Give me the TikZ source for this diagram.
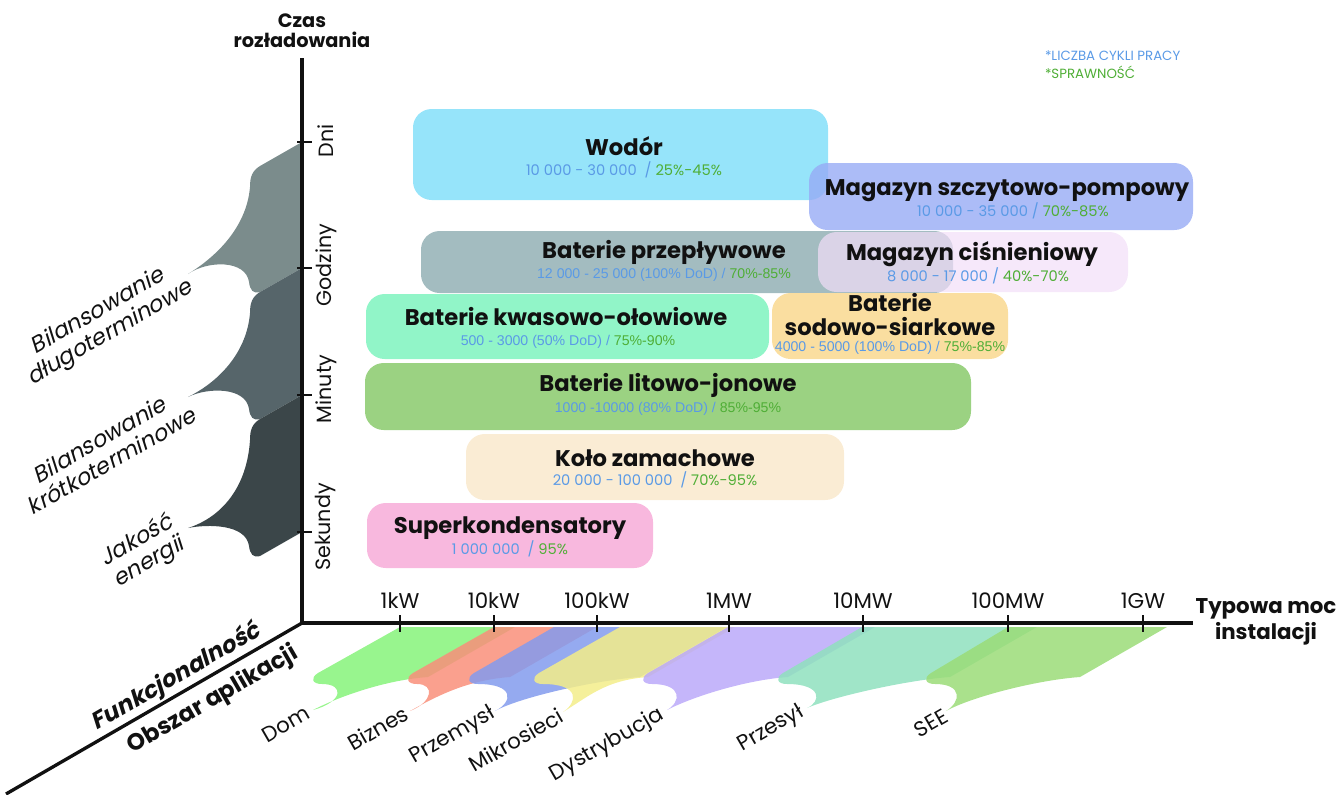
\documentclass[tikz,border=0pt]{standalone}
\usepackage{fontspec}
\setmainfont{Poppins}
\newfontfamily\slantfont{Poppins}[FakeSlant=0.22]
\newfontfamily\numfont{Liberation Sans}
\usetikzlibrary{fit}

\definecolor{inkblack}{HTML}{111111}
\definecolor{numblue}{HTML}{5A9AE6}
\definecolor{effgreen}{HTML}{4FAE36}
% functionality wedges
\definecolor{greyA}{HTML}{7B8C8C}
\definecolor{greyB}{HTML}{56656A}
\definecolor{greyC}{HTML}{3B4649}
% application bands
\definecolor{bandDom}{HTML}{86F37A}
\definecolor{bandBiz}{HTML}{F98F7A}
\definecolor{bandInd}{HTML}{839BED}
\definecolor{bandMicro}{HTML}{F3ED89}
\definecolor{bandDist}{HTML}{BBA9F9}
\definecolor{bandTrans}{HTML}{8FE1BE}
\definecolor{bandSEE}{HTML}{9BDC78}
% storage boxes
\definecolor{boxHydro}{HTML}{96E4FA}
\definecolor{boxPump}{HTML}{97ABF5}
\definecolor{boxFlow}{HTML}{A3BCC0}
\definecolor{boxAir}{HTML}{F2DEF8}
\definecolor{boxLead}{HTML}{91F5C8}
\definecolor{boxNaS}{HTML}{FADEA0}
\definecolor{boxLion}{HTML}{9BD282}
\definecolor{boxFly}{HTML}{FAECD4}
\definecolor{boxCap}{HTML}{F8B8DE}

\newcommand\cyc[1]{\textcolor{numblue}{#1}}
\newcommand\eff[1]{\textcolor{effgreen}{#1}}

% wedge between two ticks of the discharge-time axis: top, bottom, colour, tip y
\newcommand\funcwedge[4]{%
  \fill[#3] (302,#1) -- (260,#1+24)
    .. controls (252,#1+29) and (250,#1+35) .. (250,#1+45)
    .. controls (247,#2-45) and (222,#2-15) .. (188,#4)
    .. controls (208,#2-8) and (246,#2-8) .. (249,#2+14)
    .. controls (250,#2+22) and (253,#2+26) .. (260,#2+24)
    -- (302,#2) -- cycle;}

% application band under the power axis: left x, right x, ear x, notch x, tip x, tip y, colour
\newcommand\appband[7]{%
  \fill[#7, fill opacity=0.85] (#1,627) -- (#3+6,673)
    .. controls (#3-2,678) and (#3,684) .. (#3+10,684)
    .. controls (#4+8,684) and (#4+6,702) .. (#5,#6)
    .. controls (#5+25,697) and (#2-130,680) .. (#2-87,677)
    -- (#2,627) -- cycle;}

\begin{document}
\begin{tikzpicture}[x=0.75pt, y=-0.75pt,
  every node/.style={inner sep=0pt, outer sep=0pt, text=inkblack},
  axisline/.style={line width=2.5pt, draw=inkblack},
  tickmark/.style={line width=2.2pt, draw=inkblack},
  storebox/.style={rounded corners=14pt, inner sep=0pt},
  boxtitle/.style={anchor=base, font=\bfseries\fontsize{17}{19}\selectfont},
  boxsub/.style={anchor=base, font=\fontsize{11}{12}\selectfont},
  boxsubn/.style={anchor=base, font=\numfont\fontsize{10.6}{12}\selectfont},
  powerlbl/.style={anchor=base, font=\fontsize{16}{17}\selectfont},
  timelbl/.style={rotate=90, font=\fontsize{15.5}{17}\selectfont},
  applbl/.style={rotate=30, font=\fontsize{16}{17}\selectfont},
  funclbl/.style={rotate=30, align=center, font=\slantfont\fontsize{17}{18.5}\selectfont},
  axistitle/.style={align=center, font=\bfseries\fontsize{14.5}{15}\selectfont},
  legend/.style={anchor=base west, font=\fontsize{10}{12}\selectfont},
]
\useasboundingbox (0,0) rectangle (1342,794);

% functionality wedges along the time axis
\funcwedge{142}{268}{greyA}{274}
\funcwedge{268}{395}{greyB}{397}
\funcwedge{395}{532}{greyC}{528}

% application bands along the power axis
\appband{400}{515}{312}{337}{313}{710}{bandDom}
\appband{494}{597}{407}{427}{410}{711}{bandBiz}
\appband{554}{727}{468}{507}{495}{711}{bandInd}
\appband{620}{735}{533}{572}{563}{712}{bandMicro}
\appband{728}{875}{642}{675}{667}{710}{bandDist}
\appband{862}{1037}{777}{815}{807}{708}{bandTrans}
\appband{1008}{1167}{925}{955}{946}{711}{bandSEE}

% axes
\coordinate (O) at (302,623);
\coordinate (ytop) at (302,58);
\coordinate (xend) at (1193,623);
\coordinate (zend) at (6,794);
\draw[axisline] (ytop) -- (O) -- (xend);
\draw[axisline] (O) -- (zend);

% discharge-time ticks
\foreach \t in {142,268,395,532} \draw[tickmark] (297,\t) -- (312,\t);
\node[timelbl] (tDni) at (326,141) {Dni};
\node[timelbl] (tGodz) at (326,265) {Godziny};
\node[timelbl] (tMin) at (326,389) {Minuty};
\node[timelbl] (tSek) at (326,527) {Sekundy};

% power ticks
\foreach \x in {400,494,597,729,863,1008,1143} \draw[tickmark] (\x,615) -- (\x,632);
\node[powerlbl] (p1k) at (400,608) {1kW};
\node[powerlbl] (p10k) at (494,608) {10kW};
\node[powerlbl] (p100k) at (597,608) {100kW};
\node[powerlbl] (p1M) at (729,608) {1MW};
\node[powerlbl] (p10M) at (863,608) {10MW};
\node[powerlbl] (p100M) at (1008,608) {100MW};
\node[powerlbl] (p1G) at (1143,608) {1GW};

% axis titles
\node[axistitle] (titleTime) at (302,31) {Czas\\rozładowania};
\node[axistitle, font=\bfseries\fontsize{16}{19.5}\selectfont] (titlePower) at (1266,622) {Typowa moc\\instalacji};
\node[rotate=30, font=\slantfont\bfseries\fontsize{17.5}{18}\selectfont] (titleFunc) at (176,677) {Funkcjonalność};
\node[rotate=30, font=\bfseries\fontsize{17.5}{18}\selectfont] (titleArea) at (213,700) {Obszar aplikacji};

% functionality labels
\node[funclbl] (fLong) at (104,323) {Bilansowanie\\długoterminowe};
\node[funclbl] (fShort) at (105,450) {Bilansowanie\\krótkoterminowe};
\node[funclbl] (fQual) at (143,552) {Jakość\\energii};

% application labels
\node[applbl] (aDom) at (286,724) {Dom};
\node[applbl] (aBiz) at (378,728) {Biznes};
\node[applbl] (aInd) at (453,736) {Przemysł};
\node[applbl] (aMicro) at (516,740) {Mikrosieci};
\node[applbl] (aDist) at (607,745) {Dystrybucja};
\node[applbl] (aTrans) at (771,729) {Przesył};
\node[applbl] (aSEE) at (931,723) {SEE};

% storage technologies
\node[storebox, fill=boxHydro, fit={(413,109) (828,200)}] (hydro) {};
\node[storebox, fill=boxPump, fill opacity=0.8, fit={(809,163) (1193,230)}] (pump) {};
\node[storebox, fill=boxFlow, fit={(421,231) (953,293)}] (flow) {};
\node[storebox, fill=boxAir, fill opacity=0.7, fit={(818,232) (1128,292)}] (air) {};
\node[storebox, fill=boxLead, fit={(366,294) (769,359)}] (lead) {};
\node[storebox, fill=boxNaS, fit={(772,293) (1008,359)}] (nas) {};
\node[storebox, fill=boxLion, fit={(365,363) (971,430)}] (lion) {};
\node[storebox, fill=boxFly, fit={(466,434) (844,500)}] (fly) {};
\node[storebox, fill=boxCap, fit={(367,503) (653,568)}] (cap) {};

\node[boxtitle] (hydroT) at (624,155) {Wodór};
\node[boxsub] (hydroS) at (624,175) {\cyc{10 000 - 30 000\ \ /} \eff{25\%-45\%}};
\node[boxtitle] (pumpT) at (1007,195) {Magazyn szczytowo-pompowy};
\node[boxsub] (pumpS) at (1013,216.5) {\cyc{10 000 - 35 000 /} \eff{70\%-85\%}};
\node[boxtitle] (flowT) at (664,258) {Baterie przepływowe};
\node[boxsubn] (flowS) at (664,278) {\cyc{12 000 - 25 000 (100\% DoD) /} \eff{70\%-85\%}};
\node[boxtitle] (airT) at (972,260) {Magazyn ciśnieniowy};
\node[boxsub] (airS) at (978,281) {\cyc{8 000 - 17 000 /} \eff{40\%-70\%}};
\node[boxtitle] (leadT) at (566,325) {Baterie kwasowo-ołowiowe};
\node[boxsubn] (leadS) at (568,345.5) {\cyc{500 - 3000 (50\% DoD) /} \eff{75\%-90\%}};
\node[boxtitle] (nasT) at (890,311.5) {Baterie};
\node[boxtitle] (nasT2) at (890,335) {sodowo-siarkowe};
\node[boxsubn] (nasS) at (890,351.5) {\cyc{4000 - 5000 (100\% DoD) /} \eff{75\%-85\%}};
\node[boxtitle] (lionT) at (668,391.5) {Baterie litowo-jonowe};
\node[boxsubn] (lionS) at (668,412.5) {\cyc{1000 -10000 (80\% DoD) /} \eff{85\%-95\%}};
\node[boxtitle] (flyT) at (655,466) {Koło zamachowe};
\node[boxsub] (flyS) at (655,485) {\cyc{20 000 - 100 000\ \ /} \eff{70\%-95\%}};
\node[boxtitle] (capT) at (510,533) {Superkondensatory};
\node[boxsub] (capS) at (510,554) {\cyc{1 000 000\ \ /} \eff{95\%}};

% legend
\node[legend, text=numblue] (legCycles) at (1045,60.5) {*LICZBA CYKLI PRACY};
\node[legend, text=effgreen] (legEff) at (1045,78) {*SPRAWNOŚĆ};
\end{tikzpicture}
\end{document}
